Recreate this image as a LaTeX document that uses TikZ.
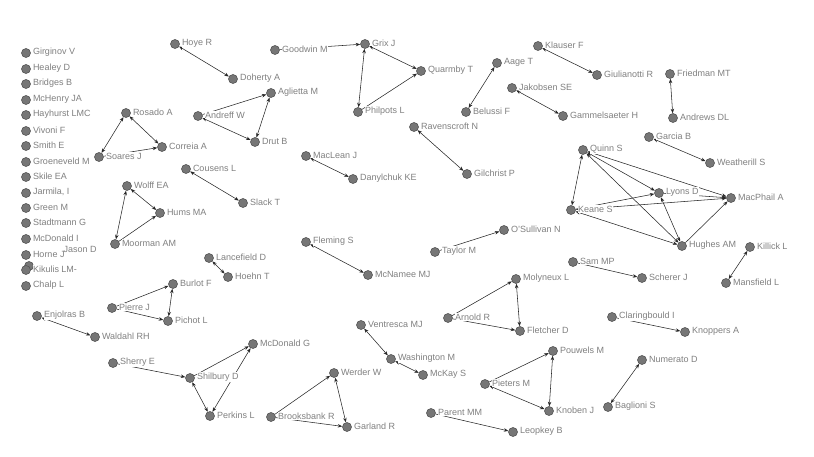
\documentclass[tikz,border=0pt]{standalone}
\usepackage{fontspec}
\setmainfont{Liberation Sans}
\usetikzlibrary{arrows.meta}
\definecolor{ndfill}{RGB}{118,118,118}
\definecolor{ndline}{RGB}{85,85,85}
\definecolor{labgray}{RGB}{128,128,128}
\definecolor{edgec}{RGB}{40,40,40}
\pgfdeclarelayer{bg}
\pgfsetlayers{bg,main}
\newcommand{\labfont}{\fontsize{9}{10}\selectfont}
\tikzset{
  pt/.style={circle, minimum size=9pt, inner sep=0pt, fill=ndfill, draw=ndline, line width=0.6pt},
  lab/.style={font=\labfont, text=labgray, fill=white, inner sep=0.5pt, yshift=1pt},
  edg/.style={draw=edgec, line width=0.55pt},
  bi/.style={edg, {Stealth[length=4.5pt,width=3.5pt]}-{Stealth[length=4.5pt,width=3.5pt]}},
  uni/.style={edg, -{Stealth[length=4.5pt,width=3.5pt]}},
}
\begin{document}
\begin{tikzpicture}[x=1pt,y=-1pt,label distance=1.5pt]
\useasboundingbox (0,0) rectangle (814,457);
% left column
\node[pt,label={[lab]right:{Girginov V}}] (gv) at (26,53) {};
\node[pt,label={[lab]right:{Healey D}}] (hd) at (26,69) {};
\node[pt,label={[lab]right:{Bridges B}}] (bb) at (26,84) {};
\node[pt,label={[lab]right:{McHenry JA}}] (mj) at (26,100) {};
\node[pt,label={[lab]right:{Hayhurst LMC}}] (hl) at (26,115) {};
\node[pt,label={[lab]right:{Vivoni F}}] (vf) at (26,131) {};
\node[pt,label={[lab]right:{Smith E}}] (se) at (26,146) {};
\node[pt,label={[lab]right:{Groeneveld M}}] (gm) at (26,162) {};
\node[pt,label={[lab]right:{Skile EA}}] (sk) at (26,177) {};
\node[pt,label={[lab]right:{Jarmila, I}}] (ji) at (26,193) {};
\node[pt,label={[lab]right:{Green M}}] (gr) at (26,208) {};
\node[pt,label={[lab]right:{Stadtmann G}}] (sg) at (26,223) {};
\node[pt,label={[lab]right:{McDonald I}}] (mi) at (26,239) {};
\node[lab,anchor=west,fill=none] (jdl) at (63,250) {Jason D};
\node[pt,label={[lab,fill=none]right:{Horne J}}] (hj) at (26,255) {};
\node[pt] (jd) at (29,266) {};
\node[pt,label={[lab]right:{Kikulis LM-}}] (kl) at (26,270) {};
\node[pt,label={[lab]right:{Chalp L}}] (cl) at (26,286) {};
% other nodes
\node[pt,label={[lab]right:{Hoye R}}] (hoye) at (175,44) {};
\node[pt,label={[lab]right:{Doherty A}}] (doh) at (233,79) {};
\node[pt,label={[lab]right:{Aglietta M}}] (agl) at (271,93) {};
\node[pt,label={[lab]right:{Rosado A}}] (ros) at (126,113) {};
\node[pt,label={[lab]right:{Andreff W}}] (andr) at (198,116) {};
\node[pt,label={[lab]right:{Drut B}}] (drut) at (255,142) {};
\node[pt,label={[lab]right:{Correia A}}] (corr) at (162,147) {};
\node[pt,label={[lab]right:{Soares J}}] (soa) at (99,157) {};
\node[pt,label={[lab]right:{Goodwin M}}] (good) at (275,50) {};
\node[pt,label={[lab]right:{Grix J}}] (grix) at (365,44) {};
\node[pt,label={[lab]right:{Quarmby T}}] (quar) at (421,71) {};
\node[pt,label={[lab]right:{Philpots L}}] (phil) at (358,112) {};
\node[pt,label={[lab]right:{Belussi F}}] (bel) at (466,112) {};
\node[pt,label={[lab]right:{Ravenscroft N}}] (rav) at (414,127) {};
\node[pt,label={[lab]right:{Klauser F}}] (kla) at (538,46) {};
\node[pt,label={[lab]right:{Aage T}}] (aage) at (497,63) {};
\node[pt,label={[lab]right:{Giulianotti R}}] (giu) at (597,75) {};
\node[pt,label={[lab]right:{Jakobsen SE}}] (jak) at (512,88) {};
\node[pt,label={[lab]right:{Gammelsaeter H}}] (gam) at (563,116) {};
\node[pt,label={[lab]right:{Quinn S}}] (quinn) at (583,150) {};
\node[pt,label={[lab]right:{Friedman MT}}] (fried) at (670,74) {};
\node[pt,label={[lab]right:{Andrews DL}}] (andrews) at (673,118) {};
\node[pt,label={[lab]right:{Garcia B}}] (garcia) at (649,137) {};
\node[pt,label={[lab]right:{Weatherill S}}] (weath) at (710,163) {};
\node[pt,label={[lab]right:{Lyons D}}] (lyons) at (659,193) {};
\node[pt,label={[lab]right:{MacPhail A}}] (macp) at (731,198) {};
\node[pt,label={[lab]right:{Keane S}}] (keane) at (571,210) {};
\node[pt,label={[lab]right:{Hughes AM}}] (hughes) at (682,246) {};
\node[pt,label={[lab]right:{Killick L}}] (killick) at (750,247) {};
\node[pt,label={[lab]right:{Sam MP}}] (sam) at (573,262) {};
\node[pt,label={[lab]right:{Cousens L}}] (cous) at (186,169) {};
\node[pt,label={[lab]right:{Wolff EA}}] (wolff) at (127,186) {};
\node[pt,label={[lab]right:{Slack T}}] (slack) at (243,203) {};
\node[pt,label={[lab]right:{Hums MA}}] (hums) at (160,213) {};
\node[pt,label={[lab]right:{Moorman AM}}] (moor) at (115,244) {};
\node[pt,label={[lab]right:{Lancefield D}}] (lance) at (209,258) {};
\node[pt,label={[lab]right:{Hoehn T}}] (hoehn) at (228,277) {};
\node[pt,label={[lab]right:{MacLean J}}] (macl) at (306,156) {};
\node[pt,label={[lab]right:{Danylchuk KE}}] (dany) at (353,179) {};
\node[pt,label={[lab]right:{Gilchrist P}}] (gil) at (467,174) {};
\node[pt,label={[lab]right:{Fleming S}}] (flem) at (306,242) {};
\node[pt,label={[lab]right:{Taylor M}}] (taylor) at (435,252) {};
\node[pt,label={[lab]right:{O'Sullivan N}}] (osul) at (504,230) {};
\node[pt,label={[lab]right:{McNamee MJ}}] (mcn) at (368,275) {};
\node[pt,label={[lab]right:{Burlot F}}] (burlot) at (173,284) {};
\node[pt,label={[lab]right:{Pierre J}}] (pierre) at (112,308) {};
\node[pt,label={[lab]right:{Pichot L}}] (pichot) at (168,321) {};
\node[pt,label={[lab]right:{Enjolras B}}] (enj) at (37,316) {};
\node[pt,label={[lab]right:{Waldahl RH}}] (wald) at (95,337) {};
\node[pt,label={[lab]right:{Sherry E}}] (sherry) at (113,363) {};
\node[pt,label={[lab]right:{Shilbury D}}] (shil) at (190,378) {};
\node[pt,label={[lab]right:{McDonald G}}] (mcdg) at (253,344) {};
\node[pt,label={[lab]right:{Perkins L}}] (perk) at (210,416) {};
\node[pt,label={[lab]right:{Brooksbank R}}] (brook) at (271,417) {};
\node[pt,label={[lab]right:{Molyneux L}}] (moly) at (516,279) {};
\node[pt,label={[lab]right:{Arnold R}}] (arnold) at (448,318) {};
\node[pt,label={[lab]right:{Ventresca MJ}}] (vent) at (361,325) {};
\node[pt,label={[lab]right:{Fletcher D}}] (flet) at (520,331) {};
\node[pt,label={[lab]right:{Washington M}}] (wash) at (391,359) {};
\node[pt,label={[lab]right:{McKay S}}] (mckay) at (423,375) {};
\node[pt,label={[lab]right:{Werder W}}] (werder) at (334,373) {};
\node[pt,label={[lab]right:{Pieters M}}] (pieters) at (485,384) {};
\node[pt,label={[lab]right:{Garland R}}] (garland) at (347,427) {};
\node[pt,label={[lab]right:{Parent MM}}] (parent) at (431,413) {};
\node[pt,label={[lab]right:{Leopkey B}}] (leop) at (513,432) {};
\node[pt,label={[lab]right:{Scherer J}}] (scherer) at (642,278) {};
\node[pt,label={[lab]right:{Mansfield L}}] (mans) at (726,283) {};
\node[pt,label={[lab]right:{Claringbould I}}] (clar) at (612,317) {};
\node[pt,label={[lab]right:{Knoppers A}}] (knop) at (685,332) {};
\node[pt,label={[lab]right:{Pouwels M}}] (pouw) at (553,351) {};
\node[pt,label={[lab]right:{Numerato D}}] (num) at (642,360) {};
\node[pt,label={[lab]right:{Knoben J}}] (knob) at (549,411) {};
\node[pt,label={[lab]right:{Baglioni S}}] (bag) at (608,407) {};
\begin{pgfonlayer}{bg}
% two-way connectors
\draw[bi] (hoye) -- (doh);
\draw[bi] (agl) -- (drut);
\draw[bi] (andr) -- (drut);
\draw[bi] (ros) -- (soa);
\draw[bi] (ros) -- (corr);
\draw[bi] (grix) -- (quar);
\draw[bi] (grix) -- (phil);
\draw[bi] (aage) -- (bel);
\draw[bi] (kla) -- (giu);
\draw[bi] (jak) -- (gam);
\draw[bi] (rav) -- (gil);
\draw[bi] (fried) -- (andrews);
\draw[bi] (garcia) -- (weath);
\draw[bi] (macl) -- (dany);
\draw[bi] (cous) -- (slack);
\draw[bi] (wolff) -- (hums);
\draw[bi] (wolff) -- (moor);
\draw[bi] (lance) -- (hoehn);
\draw[bi] (flem) -- (mcn);
\draw[bi] (burlot) -- (pichot);
\draw[bi] (enj) -- (wald);
\draw[bi] (shil) -- (perk);
\draw[bi] (perk) -- (mcdg);
\draw[bi] (werder) -- (garland);
\draw[bi] (vent) -- (wash);
\draw[bi] (wash) -- (mckay);
\draw[bi] (moly) -- (flet);
\draw[bi] (killick) -- (mans);
\draw[bi] (pouw) -- (knob);
\draw[bi] (knob) -- (pieters);
\draw[bi] (num) -- (bag);
\draw[bi] (quinn) -- (keane);
\draw[bi] (quinn) -- (lyons);
\draw[bi] (quinn) -- (macp);
\draw[bi] (quinn) -- (hughes);
\draw[bi] (keane) -- (hughes);
\draw[bi] (lyons) -- (hughes);
% one-way connectors
\draw[uni] (andr) -- (agl);
\draw[uni] (soa) -- (corr);
\draw[uni] (good) -- (grix);
\draw[uni] (phil) -- (quar);
\draw[uni] (moor) -- (hums);
\draw[uni] (taylor) -- (osul);
\draw[uni] (pierre) -- (burlot);
\draw[uni] (pierre) -- (pichot);
\draw[uni] (sherry) -- (shil);
\draw[uni] (shil) -- (mcdg);
\draw[uni] (brook) -- (werder);
\draw[uni] (brook) -- (garland);
\draw[uni] (arnold) -- (moly);
\draw[uni] (arnold) -- (flet);
\draw[uni] (sam) -- (scherer);
\draw[uni] (clar) -- (knop);
\draw[uni] (pieters) -- (pouw);
\draw[uni] (parent) -- (leop);
\draw[uni] (keane) -- (lyons);
\draw[uni] (keane) -- (macp);
\draw[uni] (lyons) -- (macp);
\draw[uni] (hughes) -- (macp);
\end{pgfonlayer}
\end{tikzpicture}
\end{document}
